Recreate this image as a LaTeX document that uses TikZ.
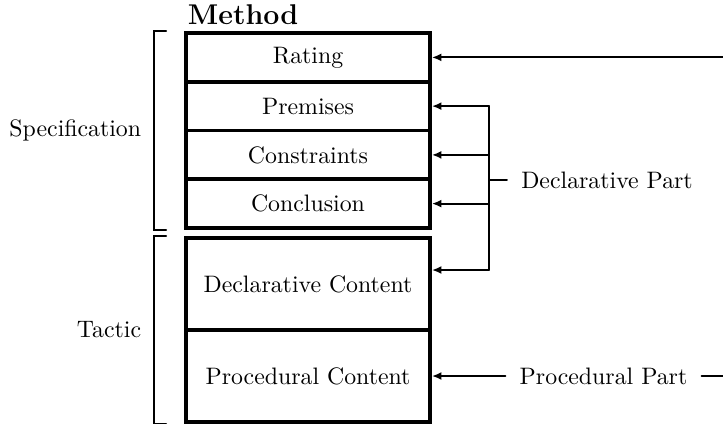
\documentclass[tikz,border=0pt]{standalone}
\usetikzlibrary{arrows.meta}
\tikzset{
  part/.style={draw,line width=1.6pt,minimum width=102.5pt,minimum height=20.475pt,inner sep=0pt},
  halfpart/.style={part,minimum height=38.64pt},
  lbl/.style={inner sep=0pt,outer sep=6pt}
}
\begin{document}
\begin{tikzpicture}[line cap=round,>={Latex[length=4pt,width=3.4pt]},x=0.42pt,y=-0.42pt,thick]
		\useasboundingbox (0,0) rectangle (723,423);
		\node[part] (ra) at (308,57.4) {Rating};
		\node[part] (pr) at (308,106.1) {Premises};
		\node[part] (co) at (308,154.9) {Constraints};
		\node[part] (cl) at (308,203.6) {Conclusion};
		\node[halfpart] (dc) at (308,284) {Declarative Content};
		\node[halfpart] (pc) at (308,376) {Procedural Content};
		\node[anchor=base west,inner sep=0pt,font=\large\bfseries] (method) at (187,24) {Method};
		\node[anchor=east] (spec) at (150,130.5) {Specification};
		\node[anchor=east] (tac) at (150,330) {Tactic};
		\draw ([xshift=-7.5pt]ra.north west) -- ++(-12,0) |- ([xshift=-7.5pt]cl.south west);
		\draw ([xshift=-7.5pt]dc.north west) -- ++(-12,0) |- ([xshift=-7.5pt]pc.south west);
		\coordinate (rin) at (ra.east -| 723,0);
		\coordinate (vtop) at (pr.east -| 489,0);
		\coordinate (vbot) at (489,270);
		\draw[->] (rin) -- (ra.east);
		\draw[->] (vtop) -- (pr.east);
		\draw[->] (co.east -| vtop) -- (co.east);
		\draw[->] (cl.east -| vtop) -- (cl.east);
		\draw[->] (vbot) -- (vbot -| dc.east);
		\draw (vtop) -- (vbot);
		\node[lbl,anchor=west] (dpart) at (507,180) {Declarative Part};
		\draw (dpart.west -| vtop) -- (dpart.west);
		\node[lbl] (ppart) at (603.5,376) {Procedural Part};
		\coordinate (pout) at (ppart.east -| 723,0);
		\draw[->] (ppart.west) -- (pc.east);
		\draw (ppart.east) -- (pout);
		\end{tikzpicture}
\end{document}
